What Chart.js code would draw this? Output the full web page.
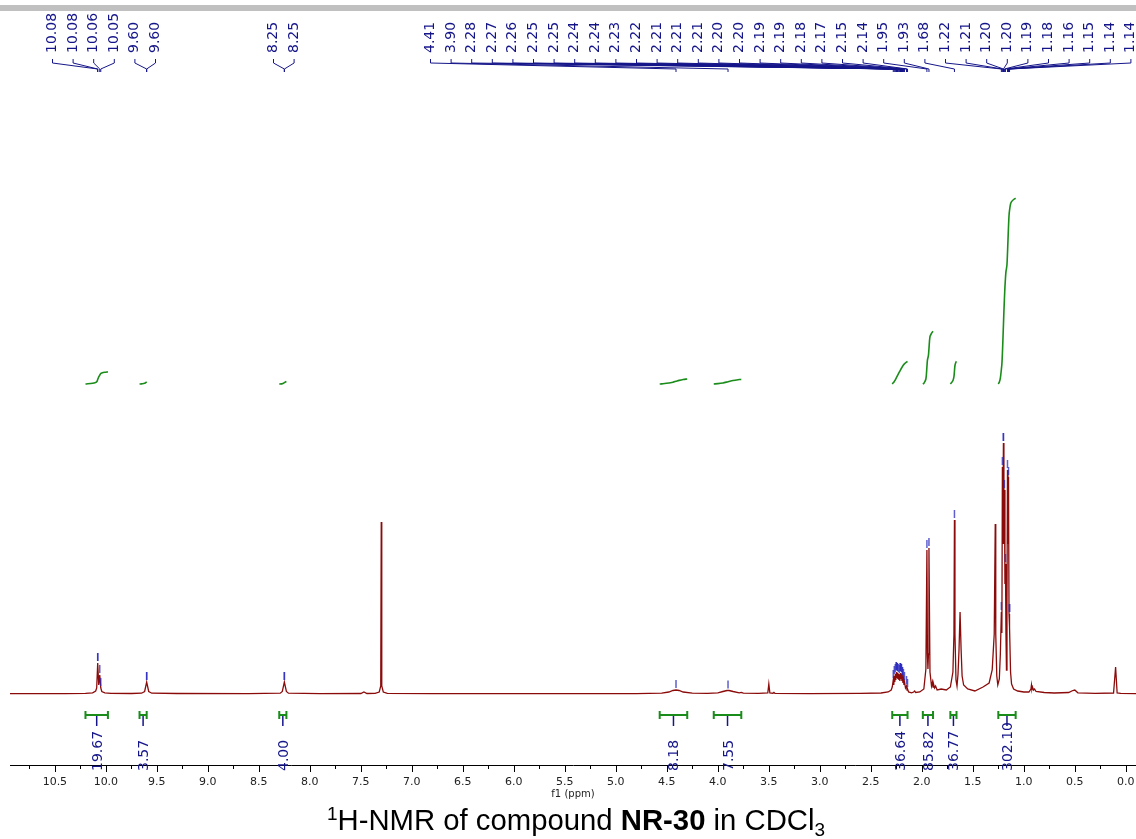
<!DOCTYPE html>
<html>
<head>
<meta charset="utf-8">
<script src="https://cdn.jsdelivr.net/npm/chart.js@4.4.0/dist/chart.umd.min.js"></script>
<style>
  body { margin: 0; background: #fff; }
  #wrap { position: relative; width: 1136px; height: 839px; overflow: hidden; }
  #topbar { position: absolute; left: 0; top: 5px; width: 1136px; height: 6px; background: #c0c0c0; }
  #caption {
    position: absolute; left: 8px; top: 805px; width: 1136px; text-align: center;
    font-family: "Liberation Sans", Arial, sans-serif; font-size: 29.3px; line-height: 30px; color: #000;
  }
  #caption sup { font-size: 19px; vertical-align: 10px; line-height: 0; }
  #caption sub { font-size: 19px; vertical-align: -6px; line-height: 0; }
</style>
</head>
<body>
<div id="wrap">
  <canvas id="nmrChart" width="1136" height="839"></canvas>
  <div id="topbar"></div>
  <div id="caption"><sup>1</sup>H-NMR of compound <b>NR-30</b> in CDCl<sub>3</sub></div>
</div>
<script>
// Spectrum (ppm, intensity)
const spectrumPpm = [
  10.94, 10.40, 10.20, 10.13, 10.10, 10.09, 10.08, 10.07, 10.06, 10.05, 10.04, 10.01, 9.95, 9.75,
  9.65, 9.62, 9.60, 9.58, 9.55, 9.30, 8.60, 8.29, 8.27, 8.25, 8.23, 8.21, 7.90, 7.50, 7.47, 7.44,
  7.36, 7.32, 7.305, 7.30, 7.295, 7.28, 7.24, 6.80, 5.50, 4.80, 4.55, 4.48, 4.44, 4.41, 4.38, 4.34,
  4.25, 4.10, 4.00, 3.95, 3.91, 3.89, 3.85, 3.79, 3.77, 3.75, 3.60, 3.51, 3.50, 3.49, 3.46, 3.45,
  3.44, 3.10, 2.60, 2.40, 2.33, 2.30, 2.29, 2.28, 2.275, 2.27, 2.265, 2.26, 2.255, 2.25, 2.245, 2.24,
  2.235, 2.23, 2.225, 2.22, 2.215, 2.21, 2.205, 2.20, 2.195, 2.19, 2.185, 2.18, 2.175, 2.17, 2.16,
  2.15, 2.145, 2.14, 2.13, 2.10, 2.08, 2.07, 2.06, 2.02, 1.98, 1.96, 1.95, 1.945, 1.94, 1.935, 1.93,
  1.92, 1.905, 1.895, 1.89, 1.885, 1.875, 1.865, 1.85, 1.81, 1.76, 1.72, 1.695, 1.685, 1.68, 1.675,
  1.665, 1.655, 1.645, 1.635, 1.625, 1.615, 1.605, 1.59, 1.55, 1.48, 1.40, 1.34, 1.31, 1.29, 1.28,
  1.275, 1.265, 1.255, 1.24, 1.23, 1.22, 1.215, 1.21, 1.205, 1.20, 1.195, 1.19, 1.185, 1.18, 1.175,
  1.17, 1.165, 1.16, 1.155, 1.15, 1.145, 1.14, 1.13, 1.12, 1.10, 1.06, 1.00, 0.95, 0.93, 0.925, 0.92,
  0.915, 0.905, 0.895, 0.88, 0.80, 0.70, 0.56, 0.52, 0.50, 0.47, 0.30, 0.12, 0.10, 0.085, 0.05, -0.10
];
const spectrumInt = [
  0.3, 0.4, 0.6, 1.2, 3, 6, 31, 9, 19, 6, 2.5, 1.2, 0.7, 0.5,
  0.8, 2.5, 12, 2.5, 0.8, 0.5, 0.4, 0.8, 2.5, 12, 2.5, 0.8, 0.4, 0.5, 2, 0.5,
  0.6, 2, 8, 172, 8, 2, 0.6, 0.4, 0.3, 0.4, 0.9, 2, 3.5, 4, 3.5, 2,
  0.9, 0.7, 1.2, 2.5, 3.5, 3.5, 2.5, 1.2, 1.6, 0.8, 0.6, 1.2, 10, 1.2, 0.8, 1.6,
  0.6, 0.4, 0.6, 1, 2, 4, 7, 14, 9, 18, 12, 20, 14, 22, 16, 21,
  15, 20, 14, 19, 13, 21, 15, 20, 13, 17, 11, 15, 9, 12, 6,
  8, 4, 5, 2, 1.2, 2, 3, 1.5, 2, 5, 25, 144, 40, 25, 40, 146,
  22, 8, 12, 7, 10, 6, 8, 4, 5, 4, 7, 22, 60, 174, 60,
  14, 8, 20, 45, 82, 45, 18, 9, 5, 3, 7, 11, 24, 60, 170,
  60, 18, 9, 15, 40, 82, 61, 227, 150, 251, 150, 204, 110, 130, 60,
  24, 90, 224, 150, 217, 80, 67, 22, 10, 5, 3, 2, 2, 5, 9, 5,
  7, 4, 5, 2.5, 1.5, 1, 1.5, 3.5, 4, 1.2, 0.6, 1, 27, 1, 0.6, 0.3
];

// Peak labels at the top
const peakLabels = [
  '10.08', '10.08', '10.06', '10.05', '9.60', '9.60',
  '8.25', '8.25',
  '4.41', '3.90', '2.28', '2.27', '2.26', '2.25', '2.25', '2.24', '2.24', '2.23', '2.22', '2.21',
  '2.21', '2.21', '2.20', '2.20', '2.19', '2.19', '2.18', '2.17', '2.15', '2.14', '1.95', '1.93',
  '1.68', '1.22', '1.21', '1.20', '1.20', '1.19', '1.18', '1.16', '1.15', '1.14', '1.14'
];

// Integrals
const intFrom = [10.20, 9.67, 8.30, 4.57, 4.04, 2.29, 1.99, 1.72, 1.25];
const intTo = [9.98, 9.60, 8.23, 4.30, 3.77, 2.14, 1.89, 1.66, 1.08];
const intValues = [19.67, 3.57, 4.00, 8.18, 7.55, 36.64, 85.82, 36.77, 302.10];

// Axis
const axisMin = -0.10;
const axisMax = 10.94;
const tickStep = 0.25;

// Layout (pixels)
const labelGroups = [
  { first: 0, last: 5, startX: 52 },
  { first: 6, last: 7, startX: 273 },
  { first: 8, last: 42, startX: 430 }
];
const labelSpacing = 20.6;
const integralBase = 310;
const integralScale = 0.615;

const blue = '#15158a';
const green = '#1a8c1a';
const red = '#8b0b0b';

// Intensity at a ppm value (peak top if a point sits close by)
function intensityAt(ppm) {
  let best = -1;
  spectrumPpm.forEach((p, i) => {
    if (Math.abs(p - ppm) <= 0.0051 && spectrumInt[i] > best) best = spectrumInt[i];
  });
  if (best >= 0) return best;
  return intensityAtLinear(ppm);
}

function intensityAtLinear(ppm) {
  for (let i = 0; i < spectrumPpm.length - 1; i++) {
    const a = spectrumPpm[i], b = spectrumPpm[i + 1];
    if (ppm <= a && ppm >= b) {
      const t = (a - ppm) / (a - b);
      return spectrumInt[i] + t * (spectrumInt[i + 1] - spectrumInt[i]);
    }
  }
  return 0;
}

// Integral curve = running area of the spectrum over the range
function integralCurve(k) {
  const hi = intFrom[k], lo = intTo[k];
  const xs = [hi];
  spectrumPpm.forEach(p => { if (p < hi && p > lo) xs.push(p); });
  xs.push(lo);
  const ys = xs.map(intensityAtLinear);
  const cum = [0];
  for (let i = 1; i < xs.length; i++) {
    cum.push(cum[i - 1] + (xs[i - 1] - xs[i]) * (ys[i - 1] + ys[i]) / 2);
  }
  const total = cum[cum.length - 1];
  const rise = intValues[k] * integralScale;
  return xs.map((p, i) => ({ x: p, y: integralBase + rise * cum[i] / total }));
}

function labelX(i) {
  const g = labelGroups.find(gr => i >= gr.first && i <= gr.last);
  return g.startX + (i - g.first) * labelSpacing;
}

function isMajor(v) {
  return Math.abs(v * 2 - Math.round(v * 2)) < 1e-6;
}

// Plugin for the peak labels, integral bars and axis ticks
const nmrExtras = {
  id: 'nmrExtras',
  afterDraw(chart) {
    const { ctx } = chart;
    const x = chart.scales.x;
    const y = chart.scales.y;
    ctx.save();
    ctx.lineWidth = 1;

    // axis ticks
    ctx.strokeStyle = '#000';
    x.ticks.forEach(t => {
      const px = Math.round(x.getPixelForValue(t.value)) + 0.5;
      const len = isMajor(t.value) ? 7 : 4;
      ctx.beginPath();
      ctx.moveTo(px, x.top);
      ctx.lineTo(px, x.top + len);
      ctx.stroke();
    });

    // peak labels with connectors
    ctx.font = '14px "DejaVu Sans", Verdana, sans-serif';
    ctx.fillStyle = blue;
    ctx.strokeStyle = blue;
    peakLabels.forEach((lab, i) => {
      const ppm = parseFloat(lab);
      const lx = labelX(i);
      const px = x.getPixelForValue(ppm);
      ctx.save();
      ctx.translate(lx + 4, 53);
      ctx.rotate(-Math.PI / 2);
      ctx.textAlign = 'left';
      ctx.textBaseline = 'alphabetic';
      ctx.fillText(lab, 0, 0);
      ctx.restore();
      ctx.beginPath();
      ctx.moveTo(lx + 0.5, 59);
      ctx.lineTo(lx + 0.5, 63);
      ctx.lineTo(px, 69);
      ctx.lineTo(px, 72);
      ctx.stroke();
    });

    // small markers over the picked peaks
    ctx.strokeStyle = 'rgba(40, 40, 190, 0.75)';
    ctx.lineWidth = 1.5;
    peakLabels.forEach(lab => {
      const ppm = parseFloat(lab);
      const px = x.getPixelForValue(ppm);
      const py = y.getPixelForValue(intensityAt(ppm));
      ctx.beginPath();
      ctx.moveTo(px, py - 10);
      ctx.lineTo(px, py - 2);
      ctx.stroke();
    });

    // integral bars and values
    intValues.forEach((val, k) => {
      const x1 = x.getPixelForValue(intFrom[k]);
      const x2 = x.getPixelForValue(intTo[k]);
      const xc = (x1 + x2) / 2;
      ctx.strokeStyle = green;
      ctx.lineWidth = 2;
      ctx.beginPath();
      ctx.moveTo(x1, 715); ctx.lineTo(x2, 715);
      ctx.moveTo(x1, 711); ctx.lineTo(x1, 719);
      ctx.moveTo(x2, 711); ctx.lineTo(x2, 719);
      ctx.stroke();
      ctx.strokeStyle = blue;
      ctx.lineWidth = 1.5;
      ctx.beginPath();
      ctx.moveTo(xc, 716); ctx.lineTo(xc, 726);
      ctx.stroke();
      ctx.save();
      ctx.translate(xc + 5, 771);
      ctx.rotate(-Math.PI / 2);
      ctx.textAlign = 'left';
      ctx.fillText(val.toFixed(2), 0, 0);
      ctx.restore();
    });
    ctx.restore();
  }
};

function tegnSpekter() {
  const ctx = document.getElementById('nmrChart').getContext('2d');
  const datasets = [{
    data: spectrumPpm.map((p, i) => ({ x: p, y: spectrumInt[i] })),
    borderColor: red,
    borderWidth: 1.3,
    pointRadius: 0,
    tension: 0
  }];
  intValues.forEach((v, k) => {
    datasets.push({
      data: integralCurve(k),
      borderColor: green,
      borderWidth: 1.6,
      pointRadius: 0,
      tension: 0.3
    });
  });

  new Chart(ctx, {
    type: 'line',
    data: { datasets: datasets },
    options: {
      responsive: false,
      animation: false,
      events: [],
      layout: { padding: { left: 10, right: 0, top: 0, bottom: 0 } },
      plugins: {
        legend: { display: false },
        tooltip: { enabled: false }
      },
      scales: {
        x: {
          type: 'linear',
          reverse: true,
          min: axisMin,
          max: axisMax,
          afterFit: scale => {
            scale.height = 74;
            scale.paddingLeft = 0;
            scale.paddingRight = 0;
          },
          border: { display: true, color: '#000', width: 1 },
          grid: { display: true, drawOnChartArea: false, drawTicks: false },
          ticks: {
            stepSize: tickStep,
            includeBounds: false,
            autoSkip: false,
            maxRotation: 0,
            padding: 11,
            color: '#222',
            font: { family: '"DejaVu Sans", Verdana, sans-serif', size: 11 },
            callback: v => isMajor(v) ? v.toFixed(1) : ''
          },
          title: {
            display: true,
            text: 'f1 (ppm)',
            color: '#222',
            font: { family: '"DejaVu Sans", Verdana, sans-serif', size: 10 },
            padding: { top: 0, bottom: 39 }
          }
        },
        y: {
          type: 'linear',
          display: false,
          min: -71,
          max: 694
        }
      }
    },
    plugins: [nmrExtras]
  });
}

window.onload = function () {
  tegnSpekter();
};
</script>
</body>
</html>
